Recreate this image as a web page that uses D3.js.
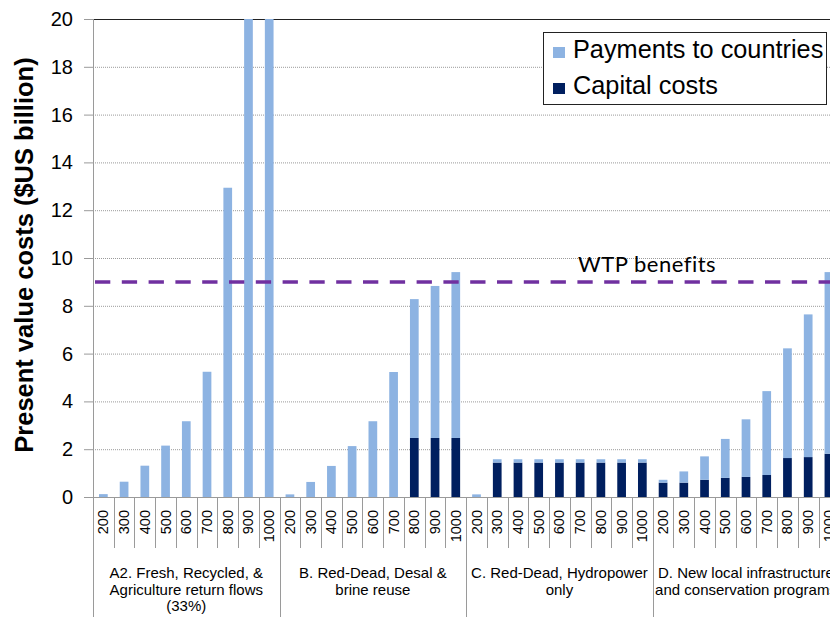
<!DOCTYPE html>
<html>
<head>
<meta charset="utf-8">
<script src="https://cdn.jsdelivr.net/npm/d3@7"></script>
<style>
  body { margin: 0; background: #fff; }
  svg { display: block; font-family: "Liberation Sans", Arial, sans-serif; }
</style>
</head>
<body>
<svg id="chart" width="830" height="617"></svg>
<script>
// Flow levels (MCM/yr) used for every scenario
var flowLevels = ["200", "300", "400", "500", "600", "700", "800", "900", "1000"];
// Scenario labels, one line per entry
var scenarioA2 = ["A2. Fresh, Recycled, &", "Agriculture return flows", "(33%)"];
var scenarioB = ["B. Red-Dead, Desal &", "brine reuse"];
var scenarioC = ["C. Red-Dead, Hydropower", "only"];
var scenarioD = ["D. New local infrastructure", "and conservation programs"];
// Capital costs ($US billion)
var capitalA2 = [0, 0, 0, 0, 0, 0, 0, 0, 0];
var capitalB = [0, 0, 0, 0, 0, 0, 2.47, 2.47, 2.47];
var capitalC = [0, 1.44, 1.44, 1.44, 1.44, 1.44, 1.44, 1.44, 1.44];
var capitalD = [0.60, 0.60, 0.72, 0.80, 0.84, 0.92, 1.63, 1.67, 1.81];
// Payments to countries ($US billion), 900 & 1000 in A2 run off the top
var paymentsA2 = [0.12, 0.64, 1.31, 2.15, 3.17, 5.24, 12.94, 20, 20];
var paymentsB = [0.11, 0.63, 1.30, 2.13, 3.17, 5.23, 5.81, 6.36, 6.94];
var paymentsC = [0.11, 0.14, 0.14, 0.14, 0.14, 0.14, 0.14, 0.14, 0.14];
var paymentsD = [0.12, 0.47, 0.98, 1.63, 2.41, 3.51, 4.59, 5.97, 7.60];
// Willingness to pay benefits line
var wtpBenefits = 9;
var yTicks = [0, 2, 4, 6, 8, 10, 12, 14, 16, 18, 20];

var groups = [
    { label: scenarioA2, capital: capitalA2, payments: paymentsA2 },
    { label: scenarioB, capital: capitalB, payments: paymentsB },
    { label: scenarioC, capital: capitalC, payments: paymentsC },
    { label: scenarioD, capital: capitalD, payments: paymentsD }
];

// flatten into one row per bar
var rows = [];
groups.forEach(function(g, gi) {
    flowLevels.forEach(function(f, i) {
        rows.push({ key: gi + "-" + f, flow: f, group: gi, capital: g.capital[i], payments: g.payments[i] });
    });
});

var lightBlue = "#8db3e2";
var navy = "#001f5f";
var plotLeft = 93, plotTop = 19, plotBottom = 497;
var step = 20.73;

var svg = d3.select("#chart");
var x = d3.scaleBand().domain(rows.map(function(d) { return d.key; }))
    .range([plotLeft, plotLeft + step * rows.length]).paddingInner(0.58).paddingOuter(0.29);
var y = d3.scaleLinear().domain([0, 20]).range([plotBottom, plotTop]).clamp(true);

// grid lines
svg.append("g").selectAll("line").data(yTicks.slice(1, -1)).enter().append("line")
    .attr("x1", plotLeft).attr("x2", 830)
    .attr("y1", function(d) { return y(d) + 0.5; }).attr("y2", function(d) { return y(d) + 0.5; })
    .attr("stroke", "#9a9a9a").attr("stroke-dasharray", "1,1");
svg.append("line").attr("x1", plotLeft).attr("x2", 830).attr("y1", y(20) + 0.5).attr("y2", y(20) + 0.5)
    .attr("stroke", "#222").attr("stroke-width", 1);

// stacked bars
var stack = d3.stack().keys(["capital", "payments"]);
var series = stack(rows);
var colors = { capital: navy, payments: lightBlue };
svg.append("g").selectAll("g").data(series).enter().append("g")
    .attr("fill", function(s) { return colors[s.key]; })
    .selectAll("rect").data(function(s) { return s; }).enter().append("rect")
    .attr("x", function(d) { return x(d.data.key); })
    .attr("width", x.bandwidth())
    .attr("y", function(d) { return y(d[1]); })
    .attr("height", function(d) { return Math.max(0, y(d[0]) - y(d[1])); });

// y axis
var yAxis = d3.axisLeft(y).tickValues(yTicks).tickSize(9).tickPadding(11);
var yg = svg.append("g").attr("transform", "translate(" + plotLeft + ",0)").call(yAxis);
yg.select(".domain").remove();
yg.selectAll(".tick line").attr("stroke", "#9a9a9a");
yg.selectAll(".tick text").attr("font-size", 20).attr("fill", "#000")
    .attr("font-family", "Liberation Sans, Arial, sans-serif");
svg.append("line").attr("x1", plotLeft + 0.5).attr("x2", plotLeft + 0.5).attr("y1", plotTop).attr("y2", 617)
    .attr("stroke", "#9a9a9a");
svg.append("line").attr("x1", plotLeft).attr("x2", 830).attr("y1", plotBottom + 0.5).attr("y2", plotBottom + 0.5)
    .attr("stroke", "#9a9a9a");

svg.append("text")
    .attr("transform", "translate(33,255) rotate(-90)")
    .attr("text-anchor", "middle").attr("font-size", 25.5).attr("font-weight", "bold")
    .text("Present value costs ($US billion)");

// category separators and labels
var edges = d3.range(rows.length + 1);
svg.append("g").selectAll("line").data(edges).enter().append("line")
    .attr("x1", function(i) { return Math.round(plotLeft + i * step) + 0.5; })
    .attr("x2", function(i) { return Math.round(plotLeft + i * step) + 0.5; })
    .attr("y1", plotBottom)
    .attr("y2", function(i) { return i % 9 == 0 ? 617 : 548; })
    .attr("stroke", "#9a9a9a");

svg.append("g").selectAll("text").data(rows).enter().append("text")
    .attr("transform", function(d) {
        return "translate(" + (x(d.key) + x.bandwidth() / 2 + 5) + ",510) rotate(-90)";
    })
    .attr("text-anchor", "end").attr("font-size", 14.5)
    .text(function(d) { return d.flow; });

var groupLabels = svg.append("g").selectAll("text").data(groups).enter().append("text")
    .attr("text-anchor", "middle").attr("font-size", 15)
    .attr("x", function(g, gi) { return plotLeft + (gi * 9 + 4.5) * step; })
    .attr("y", 578);
groupLabels.selectAll("tspan").data(function(g) { return g.label; }).enter().append("tspan")
    .attr("x", function() { return this.parentNode.getAttribute("x"); })
    .attr("dy", function(d, i) { return i == 0 ? 0 : 16.5; })
    .text(function(d) { return d; });

// WTP benefits line
svg.append("line").attr("x1", 95).attr("x2", 830).attr("y1", y(wtpBenefits)).attr("y2", y(wtpBenefits))
    .attr("stroke", "#7030a0").attr("stroke-width", 3.5).attr("stroke-dasharray", "15.3,11.5");
svg.append("text").attr("x", 578).attr("y", 272).attr("font-size", 22)
    .attr("letter-spacing", 0.5)
    .attr("font-family", "Lato, sans-serif").text("WTP benefits");

// legend
var legend = svg.append("g");
legend.append("rect").attr("x", 543.5).attr("y", 32.5).attr("width", 283).attr("height", 72)
    .attr("fill", "#fff").attr("stroke", "#222");
var legendItems = [
    { name: "Payments to countries", color: lightBlue, y: 58 },
    { name: "Capital costs", color: navy, y: 94 }
];
legendItems.forEach(function(it) {
    legend.append("rect").attr("x", 553).attr("y", it.y - 11).attr("width", 12).attr("height", 11)
        .attr("fill", it.color);
    legend.append("text").attr("x", 573).attr("y", it.y).attr("font-size", 25.3).text(it.name);
});
</script>
</body>
</html>
